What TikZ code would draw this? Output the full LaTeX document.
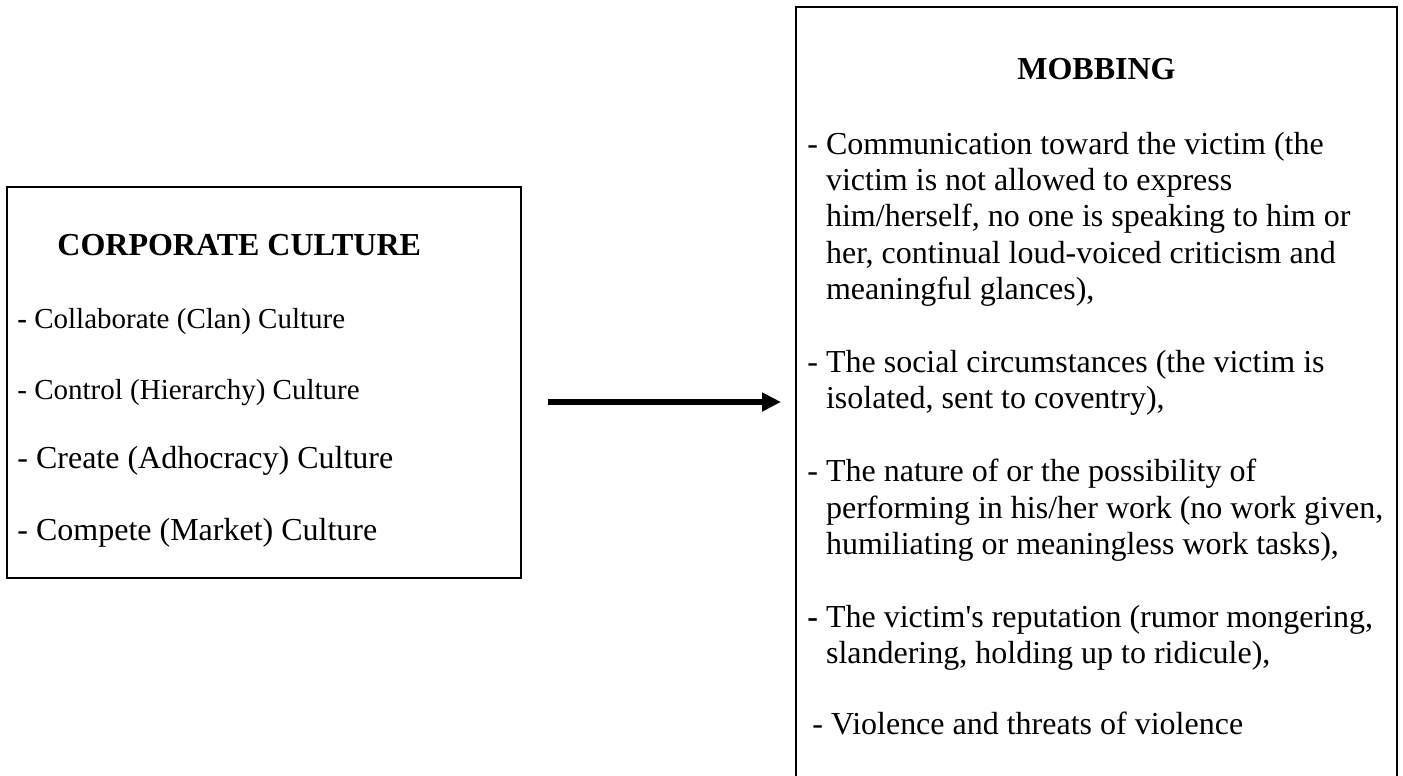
\documentclass[tikz,border=0pt]{standalone}
\usepackage{fontspec}
\setmainfont{Liberation Serif}
\usetikzlibrary{arrows.meta,positioning}
\newcommand{\mlines}[1]{\begin{tabular}[t]{@{}l@{}}#1\end{tabular}}
\tikzset{
  box/.style={
    draw,
    line width=1pt,
    shape=rectangle,
    inner sep=0pt
  },
  heading/.style={
    anchor=base west,
    inner sep=0pt,
    font=\fontsize{16pt}{18pt}\selectfont\bfseries
  },
  citem/.style={
    anchor=base west,
    inner sep=0pt,
    font=\fontsize{14.5pt}{17pt}\selectfont
  },
  citembig/.style={
    citem,
    font=\fontsize{16pt}{18pt}\selectfont
  },
  mitem/.style={
    anchor=base west,
    inner sep=0pt,
    font=\fontsize{16pt}{18.2pt}\selectfont
  },
  flow/.style={
    line width=2.8pt,
    -{Triangle[length=9.5pt,width=9pt]}
  }
}
\begin{document}
\begin{tikzpicture}[x=0.5pt,y=-0.5pt]
\useasboundingbox (0,0) rectangle (1403,776);
\clip (0,0) rectangle (1403,776);
% boxes
\node[box, minimum width=257pt, minimum height=195.5pt] (culture) at (264,382.5) {};
\node[box, minimum width=300.5pt, minimum height=400pt] (mobbing) at (1096.5,407) {};
% corporate culture
\node[heading] (cchead) at (57,255) {CORPORATE CULTURE};
\node[citem] (c1) at (17,328) {\textbf{-} Collaborate (Clan) Culture};
\node[citem] (c2) at (17,399) {- Control (Hierarchy) Culture};
\node[citembig] (c3) at (17,468) {- Create (Adhocracy) Culture};
\node[citembig] (c4) at (17,540) {- Compete (Market) Culture};
% mobbing
\node[heading, anchor=base] (mbhead) at (1096.5,79) {MOBBING};
\node[mitem] (m1) at (807,154) {- \mlines{Communication toward the victim (the\\
  victim is not allowed to express\\
  him/herself, no one is speaking to him or\\
  her, continual loud-voiced criticism and\\
  meaningful glances),}};
\node[mitem] (m2) at (807,372.4) {- \mlines{The social circumstances (the victim is\\
  isolated, sent to coventry),}};
\node[mitem] (m3) at (807,481.6) {- \mlines{The nature of or the possibility of\\
  performing in his/her work (no work given,\\
  humiliating or meaningless work tasks),}};
\node[mitem] (m4) at (807,627.2) {\textbf{-} \mlines{The victim\textquotesingle s reputation (rumor mongering,\\
  slandering, holding up to ridicule),}};
\node[mitem] (m5) at (812,734.4) {- Violence and threats of violence};
% arrow
\coordinate (from) at (548,402);
\coordinate (to) at (781,402);
\draw[flow] (from) -- (to);
\end{tikzpicture}
\end{document}
